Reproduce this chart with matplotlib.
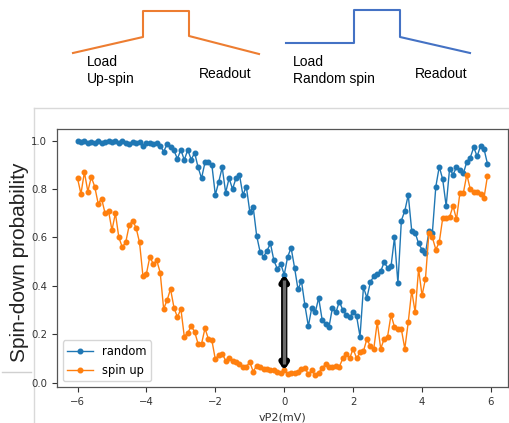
import numpy as np
import matplotlib
matplotlib.use('Agg')
import matplotlib.pyplot as plt

# sweep of the plunger gate (mV)
vp2 = np.round(np.arange(-6.0, 5.95, 0.1), 1)

# spin-down probability, random spin loaded
random_p = [1.0, 0.995, 0.998, 0.99, 0.995, 0.99, 0.998, 0.99, 0.995, 1.0,
            0.995, 0.998, 0.99, 0.998, 0.99, 0.985, 0.995, 0.99, 0.995, 0.98,
            0.99, 0.99, 0.985, 0.99, 0.98, 0.955, 0.985, 0.975, 0.96, 0.925,
            0.963, 0.92, 0.963, 0.922, 0.95, 0.89, 0.845, 0.91, 0.91, 0.9,
            0.776, 0.83, 0.89, 0.785, 0.845, 0.80, 0.845, 0.86, 0.776, 0.81,
            0.707, 0.725, 0.607, 0.54, 0.52, 0.545, 0.575, 0.505, 0.47, 0.49,
            0.446, 0.52, 0.557, 0.475, 0.385, 0.42, 0.32, 0.233, 0.31, 0.29,
            0.35, 0.26, 0.24, 0.23, 0.31, 0.29, 0.335, 0.30, 0.28, 0.27,
            0.29, 0.275, 0.19, 0.395, 0.35, 0.415, 0.44, 0.45, 0.46, 0.497,
            0.475, 0.48, 0.60, 0.41, 0.67, 0.71, 0.776, 0.628, 0.62, 0.575,
            0.55, 0.535, 0.625, 0.62, 0.81, 0.893, 0.84, 0.73, 0.885, 0.86,
            0.89, 0.88, 0.865, 0.913, 0.93, 0.973, 0.935, 0.98, 0.965, 0.904]

# spin-down probability, up-spin loaded
spinup_p = [0.845, 0.78, 0.87, 0.79, 0.85, 0.81, 0.74, 0.76, 0.70, 0.71,
            0.63, 0.70, 0.60, 0.56, 0.58, 0.65, 0.67, 0.64, 0.58, 0.44,
            0.45, 0.52, 0.49, 0.505, 0.455, 0.305, 0.34, 0.387, 0.31, 0.27,
            0.305, 0.19, 0.205, 0.233, 0.21, 0.16, 0.16, 0.224, 0.18, 0.175,
            0.096, 0.115, 0.12, 0.09, 0.10, 0.09, 0.085, 0.075, 0.065, 0.065,
            0.085, 0.045, 0.07, 0.065, 0.058, 0.055, 0.05, 0.05, 0.045, 0.04,
            0.052, 0.035, 0.04, 0.04, 0.045, 0.055, 0.06, 0.035, 0.05, 0.03,
            0.04, 0.06, 0.075, 0.065, 0.065, 0.07, 0.065, 0.10, 0.12, 0.10,
            0.14, 0.10, 0.125, 0.13, 0.18, 0.15, 0.14, 0.25, 0.14, 0.18,
            0.19, 0.28, 0.23, 0.22, 0.22, 0.14, 0.25, 0.38, 0.29, 0.47,
            0.36, 0.43, 0.62, 0.60, 0.55, 0.58, 0.68, 0.68, 0.685, 0.73,
            0.675, 0.785, 0.785, 0.86, 0.80, 0.79, 0.79, 0.78, 0.765, 0.855]

# gap marked by the arrow at vP2 = 0
arrow_x = 0.0
arrow_lo, arrow_hi = 0.05, 0.447

# pulse sketches above the plot (pixel coords of the figure)
pulse_up_x = [73, 143, 143, 189, 189, 259]
pulse_up_y = [53, 37, 11, 11, 36, 54]
pulse_rand_x = [286, 354, 354, 400, 400, 470]
pulse_rand_y = [43, 43, 10, 10, 37, 53]

W, H = 509, 423
fig = plt.figure(figsize=(W / 100, H / 100), dpi=100)

# main axes
ax = fig.add_axes([57 / W, 1 - 387 / H, 451 / W, 258 / H])
ax.plot(vp2, random_p, '-o', color='#1f77b4', ms=3.3, lw=1, label='random')
ax.plot(vp2, spinup_p, '-o', color='#ff7f0e', ms=3.3, lw=1, label='spin up')

# double arrow: black outline, grey body
ax.annotate('', xy=(arrow_x, arrow_hi), xytext=(arrow_x, arrow_lo),
            arrowprops=dict(arrowstyle='<|-|>,head_length=0.3,head_width=0.2',
                            color='black', lw=4.5, shrinkA=0, shrinkB=0))
ax.plot([arrow_x, arrow_x], [arrow_lo + 0.025, arrow_hi - 0.025],
        color='#6a6a6a', lw=2.4, zorder=5, solid_capstyle='butt')

ax.set_xlabel('vP2(mV)', fontsize=8, color='#333333')
ax.tick_params(labelsize=7.3, colors='#333333', length=3.5)
for s in ax.spines.values():
    s.set_color('#555555')
    s.set_linewidth(0.9)
ax.legend(loc='lower left', fontsize=8.3, handlelength=2.2)

fig.text(20 / W, 1 - 262 / H, 'Spin-down probability', rotation=90,
         ha='center', va='center', fontsize=15, family='Liberation Sans', color='#222222')

# overlay for the sketches and the screenshot frame
top = fig.add_axes([0, 0, 1, 1], zorder=-1)
top.set_xlim(0, W)
top.set_ylim(H, 0)
top.axis('off')
top.plot(pulse_up_x, pulse_up_y, color='#ED7D31', lw=1.5)
top.plot(pulse_rand_x, pulse_rand_y, color='#4472C4', lw=1.5)

txt = dict(fontsize=10, family='Liberation Sans', color='black', va='baseline', ha='left')
top.text(87, 66.5, 'Load', **txt)
top.text(87, 83.5, 'Up-spin', **txt)
top.text(199, 78, 'Readout', **txt)
top.text(293, 66.5, 'Load', **txt)
top.text(293, 83.5, 'Random spin', **txt)
top.text(415, 78, 'Readout', **txt)

top.plot([34, W], [108, 108], color='#d9d9d9', lw=1)
top.plot([34, 34], [108, H], color='#d9d9d9', lw=1)
top.plot([2, 31], [372, 372], color='#d0d0d0', lw=1)

fig.savefig('out.png', dpi=100)
